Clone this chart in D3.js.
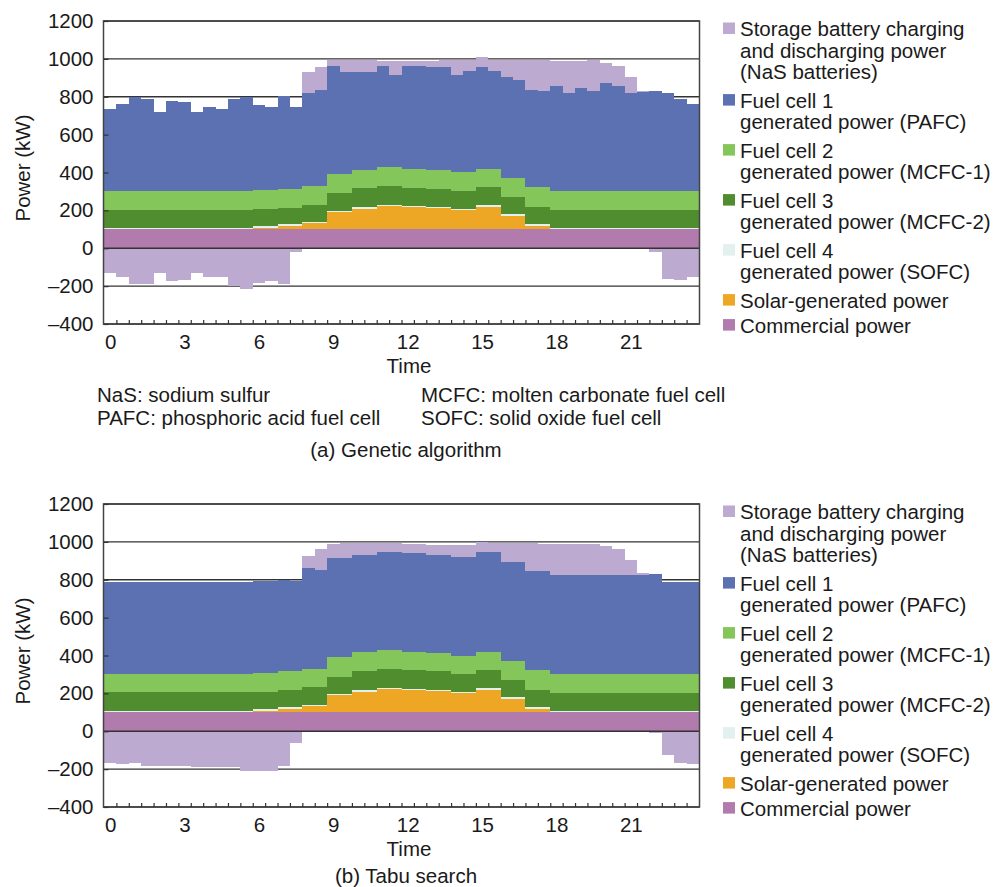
<!DOCTYPE html>
<html lang="en">
<head>
<meta charset="UTF-8" />
<title>Power supply schedule</title>
<style>
  body { margin: 0; background: #fff; }
  svg text { font-family: "Liberation Sans", Arial, Helvetica, sans-serif; fill: #1a1a1a; }
</style>
</head>
<body>
<svg width="995" height="887"></svg>
<script src="https://d3js.org/d3.v7.min.js"></script>
<script>
(function () {
  "use strict";

  // half-hour slots 0:00 .. 23:30, values in kW
  var xTickLabels = [0, 3, 6, 9, 12, 15, 18, 21];
  var yTicks = [-400, -200, 0, 200, 400, 600, 800, 1000, 1200];

  var commercial = [100,100,100,100,100,100,100,100,100,100,100,100,100,100,100,100,100,100,100,100,100,100,100,100,
                    100,100,100,100,100,100,100,100,100,100,100,100,100,100,100,100,100,100,100,100,100,100,100,100];
  var solar = [0,0,0,0,0,0,0,0,0,0,0,0,8,8,20,20,31,31,90,90,108,108,121,121,
               117,117,110,110,101,101,120,120,72,72,20,20,0,0,0,0,0,0,0,0,0,0,0,0];
  var sofc = [8,8,8,8,8,8,8,8,8,8,8,8,8,8,8,8,8,8,8,8,8,8,8,8,
              8,8,8,8,8,8,8,8,8,8,8,8,8,8,8,8,8,8,8,8,8,8,8,8];

  // (a) genetic algorithm
  var gaMcfc2 = [95,95,95,95,95,95,95,95,95,95,95,95,90,90,83,83,91,91,93,93,100,100,100,100,
                 91,91,94,94,92,92,93,93,93,93,92,92,95,95,95,95,95,95,95,95,95,95,95,95];
  var gaMcfc1 = [98,98,98,98,98,98,98,98,98,98,98,98,102,102,104,104,101,101,102,102,99,99,98,98,
                 102,102,102,102,102,102,97,97,97,97,101,101,98,98,98,98,98,98,98,98,98,98,98,98];
  var gaPafc = [434,462,499,488,420,476,471,420,444,434,488,499,451,437,490,430,488,503,569,537,516,516,534,490,
                546,546,544,541,513,532,537,516,534,520,516,507,554,518,543,532,571,557,518,522,532,518,487,460];
  var gaBattery = [-129,-153,-189,-189,-129,-173,-167,-129,-153,-150,-199,-213,-181,-171,-189,-21,111,124,30,62,62,62,30,74,
                   27,27,32,37,80,61,53,61,91,105,158,167,133,169,144,159,105,106,85,5,-21,-162,-167,-150];

  // (b) tabu search
  var tabuMcfc2 = [97,97,97,97,97,97,97,97,97,97,97,97,92,92,91,91,94,94,91,91,100,100,101,101,
                   96,96,98,98,94,94,93,93,93,93,92,92,95,95,95,95,95,95,95,95,95,95,95,95];
  var tabuMcfc1 = [98,98,98,98,98,98,98,98,98,98,98,98,99,99,97,97,97,97,103,103,100,100,97,97,
                   100,100,98,98,97,97,97,97,97,97,101,101,100,100,100,100,100,100,100,100,100,100,100,100];
  var tabuPafc = [487,487,487,487,487,487,487,487,487,487,487,487,485,485,484,478,532,519,523,523,516,516,521,521,
                  521,521,517,517,520,520,527,527,523,523,523,523,520,520,520,520,520,520,520,520,528,487,487,487];
  var tabuBattery = [-167,-172,-167,-182,-182,-182,-182,-187,-187,-187,-190,-208,-208,-208,-185,-63,64,112,73,80,63,63,47,47,
                     49,49,55,55,66,66,55,50,102,102,151,144,165,165,165,168,155,139,83,11,-10,-124,-170,-172];

  var keys = ["commercial", "solar", "sofc", "mcfc2", "mcfc1", "pafc", "battery"];
  var colors = {
    battery: "#bdaad1",
    pafc: "#5b71b1",
    mcfc1: "#84c65a",
    mcfc2: "#4f8d2f",
    sofc: "#e2f0ee",
    solar: "#eea724",
    commercial: "#b27bad"
  };
  var legendItems = [
    { key: "battery", lines: ["Storage battery charging", "and discharging power", "(NaS batteries)"] },
    { key: "pafc", lines: ["Fuel cell 1", "generated power (PAFC)"] },
    { key: "mcfc1", lines: ["Fuel cell 2", "generated power (MCFC-1)"] },
    { key: "mcfc2", lines: ["Fuel cell 3", "generated power (MCFC-2)"] },
    { key: "sofc", lines: ["Fuel cell 4", "generated power (SOFC)"] },
    { key: "solar", lines: ["Solar-generated power"] },
    { key: "commercial", lines: ["Commercial power"] }
  ];

  var FS = 20.5;
  var LEFT = 103.5, RIGHT = 699.5;
  var svg = d3.select("svg");

  var x = d3.scaleLinear().domain([0, 24]).range([104, 699]);

  // like stackOffsetDiverging, but empty slots stay on top of the positive stack
  function offsetDivergingKeep(series, order) {
    var n = series.length, m = series[order[0]].length;
    for (var j = 0; j < m; ++j) {
      var yp = 0, yn = 0;
      for (var i = 0; i < n; ++i) {
        var d = series[order[i]][j], dy = d[1] - d[0];
        if (dy > 0) { d[0] = yp; d[1] = yp += dy; }
        else if (dy < 0) { d[1] = yn; d[0] = yn += dy; }
        else { d[0] = yp; d[1] = yp; }
      }
    }
  }

  // negative labels are printed with a long dash
  function fmtY(d) {
    return d < 0 ? "\u2013" + Math.abs(d) : String(d);
  }

  function drawPanel(top, vals, caption, notes) {
    var g = svg.append("g");
    var y = d3.scaleLinear().domain([-400, 1200]).range([top + 303, top]);

    var rows = d3.range(48).map(function (i) {
      var r = { t: i / 2 };
      keys.forEach(function (k) { r[k] = vals[k][i]; });
      return r;
    });
    // closing point so the last half hour gets its step
    var last = Object.assign({}, rows[47]);
    last.t = 24;
    rows.push(last);

    var stacked = d3.stack().keys(keys).offset(offsetDivergingKeep)(rows);

    // grid under the areas
    g.append("g")
      .selectAll("line")
      .data(yTicks)
      .join("line")
      .attr("x1", LEFT).attr("x2", RIGHT)
      .attr("y1", function (d) { return y(d); })
      .attr("y2", function (d) { return y(d); })
      .attr("stroke", "#333")
      .attr("stroke-width", 1.3);

    var area = d3.area()
      .curve(d3.curveStepAfter)
      .x(function (d) { return x(d.data.t); })
      .y0(function (d) { return y(d[0]); })
      .y1(function (d) { return y(d[1]); });

    g.append("g")
      .selectAll("path")
      .data(stacked)
      .join("path")
      .attr("d", area)
      .attr("fill", function (s) { return colors[s.key]; })
      .attr("shape-rendering", "crispEdges");

    // zero line drawn over the areas
    g.append("line")
      .attr("x1", LEFT).attr("x2", RIGHT)
      .attr("y1", y(0)).attr("y2", y(0))
      .attr("stroke", "#333")
      .attr("stroke-width", 1.3);

    g.append("rect")
      .attr("x", LEFT).attr("y", top)
      .attr("width", RIGHT - LEFT).attr("height", 303)
      .attr("fill", "none")
      .attr("stroke", "#444")
      .attr("stroke-width", 1.5);

    // y axis
    var ya = g.append("g")
      .attr("transform", "translate(" + LEFT + ",0)")
      .call(d3.axisLeft(y).tickValues(yTicks).tickFormat(fmtY)
        .tickSizeInner(-5).tickSizeOuter(0).tickPadding(10));
    ya.select(".domain").remove();
    ya.selectAll("line").attr("stroke", "#333").attr("stroke-width", 1.2);
    ya.selectAll("text").attr("font-size", FS).attr("fill", "#1a1a1a");
    ya.attr("font-family", null);

    // half-hour ticks
    var xt = g.append("g")
      .attr("transform", "translate(0," + (top + 303) + ")")
      .call(d3.axisBottom(x).tickValues(d3.range(1, 48).map(function (i) { return i / 2; }))
        .tickSizeInner(-4).tickSizeOuter(0).tickFormat(""));
    xt.select(".domain").remove();
    xt.selectAll("line").attr("stroke", "#333").attr("stroke-width", 1.2);

    // hour labels centred on their half-hour slot
    var xl = g.append("g")
      .attr("transform", "translate(0," + (top + 303) + ")")
      .call(d3.axisBottom(x).tickValues(xTickLabels.map(function (h) { return h + 0.25; }))
        .tickSize(0).tickPadding(10).tickFormat(function (d) { return d3.format("d")(d - 0.25); }));
    xl.select(".domain").remove();
    xl.selectAll("text").attr("font-size", FS).attr("fill", "#1a1a1a");
    xl.attr("font-family", null);

    g.append("text")
      .attr("transform", "translate(30," + (top + 147) + ") rotate(-90)")
      .attr("text-anchor", "middle")
      .attr("font-size", FS)
      .text("Power (kW)");

    g.append("text")
      .attr("x", 409).attr("y", top + 352)
      .attr("text-anchor", "middle")
      .attr("font-size", FS)
      .text("Time");

    // legend
    var ly = top + 15;
    legendItems.forEach(function (it) {
      g.append("rect")
        .attr("x", 723).attr("y", ly - 13.5)
        .attr("width", 12).attr("height", 11.5)
        .attr("fill", colors[it.key]);
      it.lines.forEach(function (s, i) {
        g.append("text")
          .attr("x", 740).attr("y", ly + i * 21.6)
          .attr("font-size", FS)
          .text(s);
      });
      ly += it.lines.length * 21.6 + (it.lines.length > 1 ? 6.8 : 3.4);
    });

    if (notes) {
      notes.forEach(function (n) {
        g.append("text")
          .attr("x", n[0]).attr("y", top + n[1])
          .attr("font-size", FS)
          .text(n[2]);
      });
    }

    g.append("text")
      .attr("x", 406).attr("y", top + caption[1])
      .attr("text-anchor", "middle")
      .attr("font-size", FS)
      .text(caption[0]);
  }

  drawPanel(21, {
    commercial: commercial, solar: solar, sofc: sofc,
    mcfc2: gaMcfc2, mcfc1: gaMcfc1, pafc: gaPafc, battery: gaBattery
  }, ["(a) Genetic algorithm", 436], [
    [97, 381, "NaS: sodium sulfur"],
    [421, 381, "MCFC: molten carbonate fuel cell"],
    [97, 404, "PAFC: phosphoric acid fuel cell"],
    [421, 404, "SOFC: solid oxide fuel cell"]
  ]);

  drawPanel(504, {
    commercial: commercial, solar: solar, sofc: sofc,
    mcfc2: tabuMcfc2, mcfc1: tabuMcfc1, pafc: tabuPafc, battery: tabuBattery
  }, ["(b) Tabu search", 379], null);
})();
</script>
</body>
</html>
